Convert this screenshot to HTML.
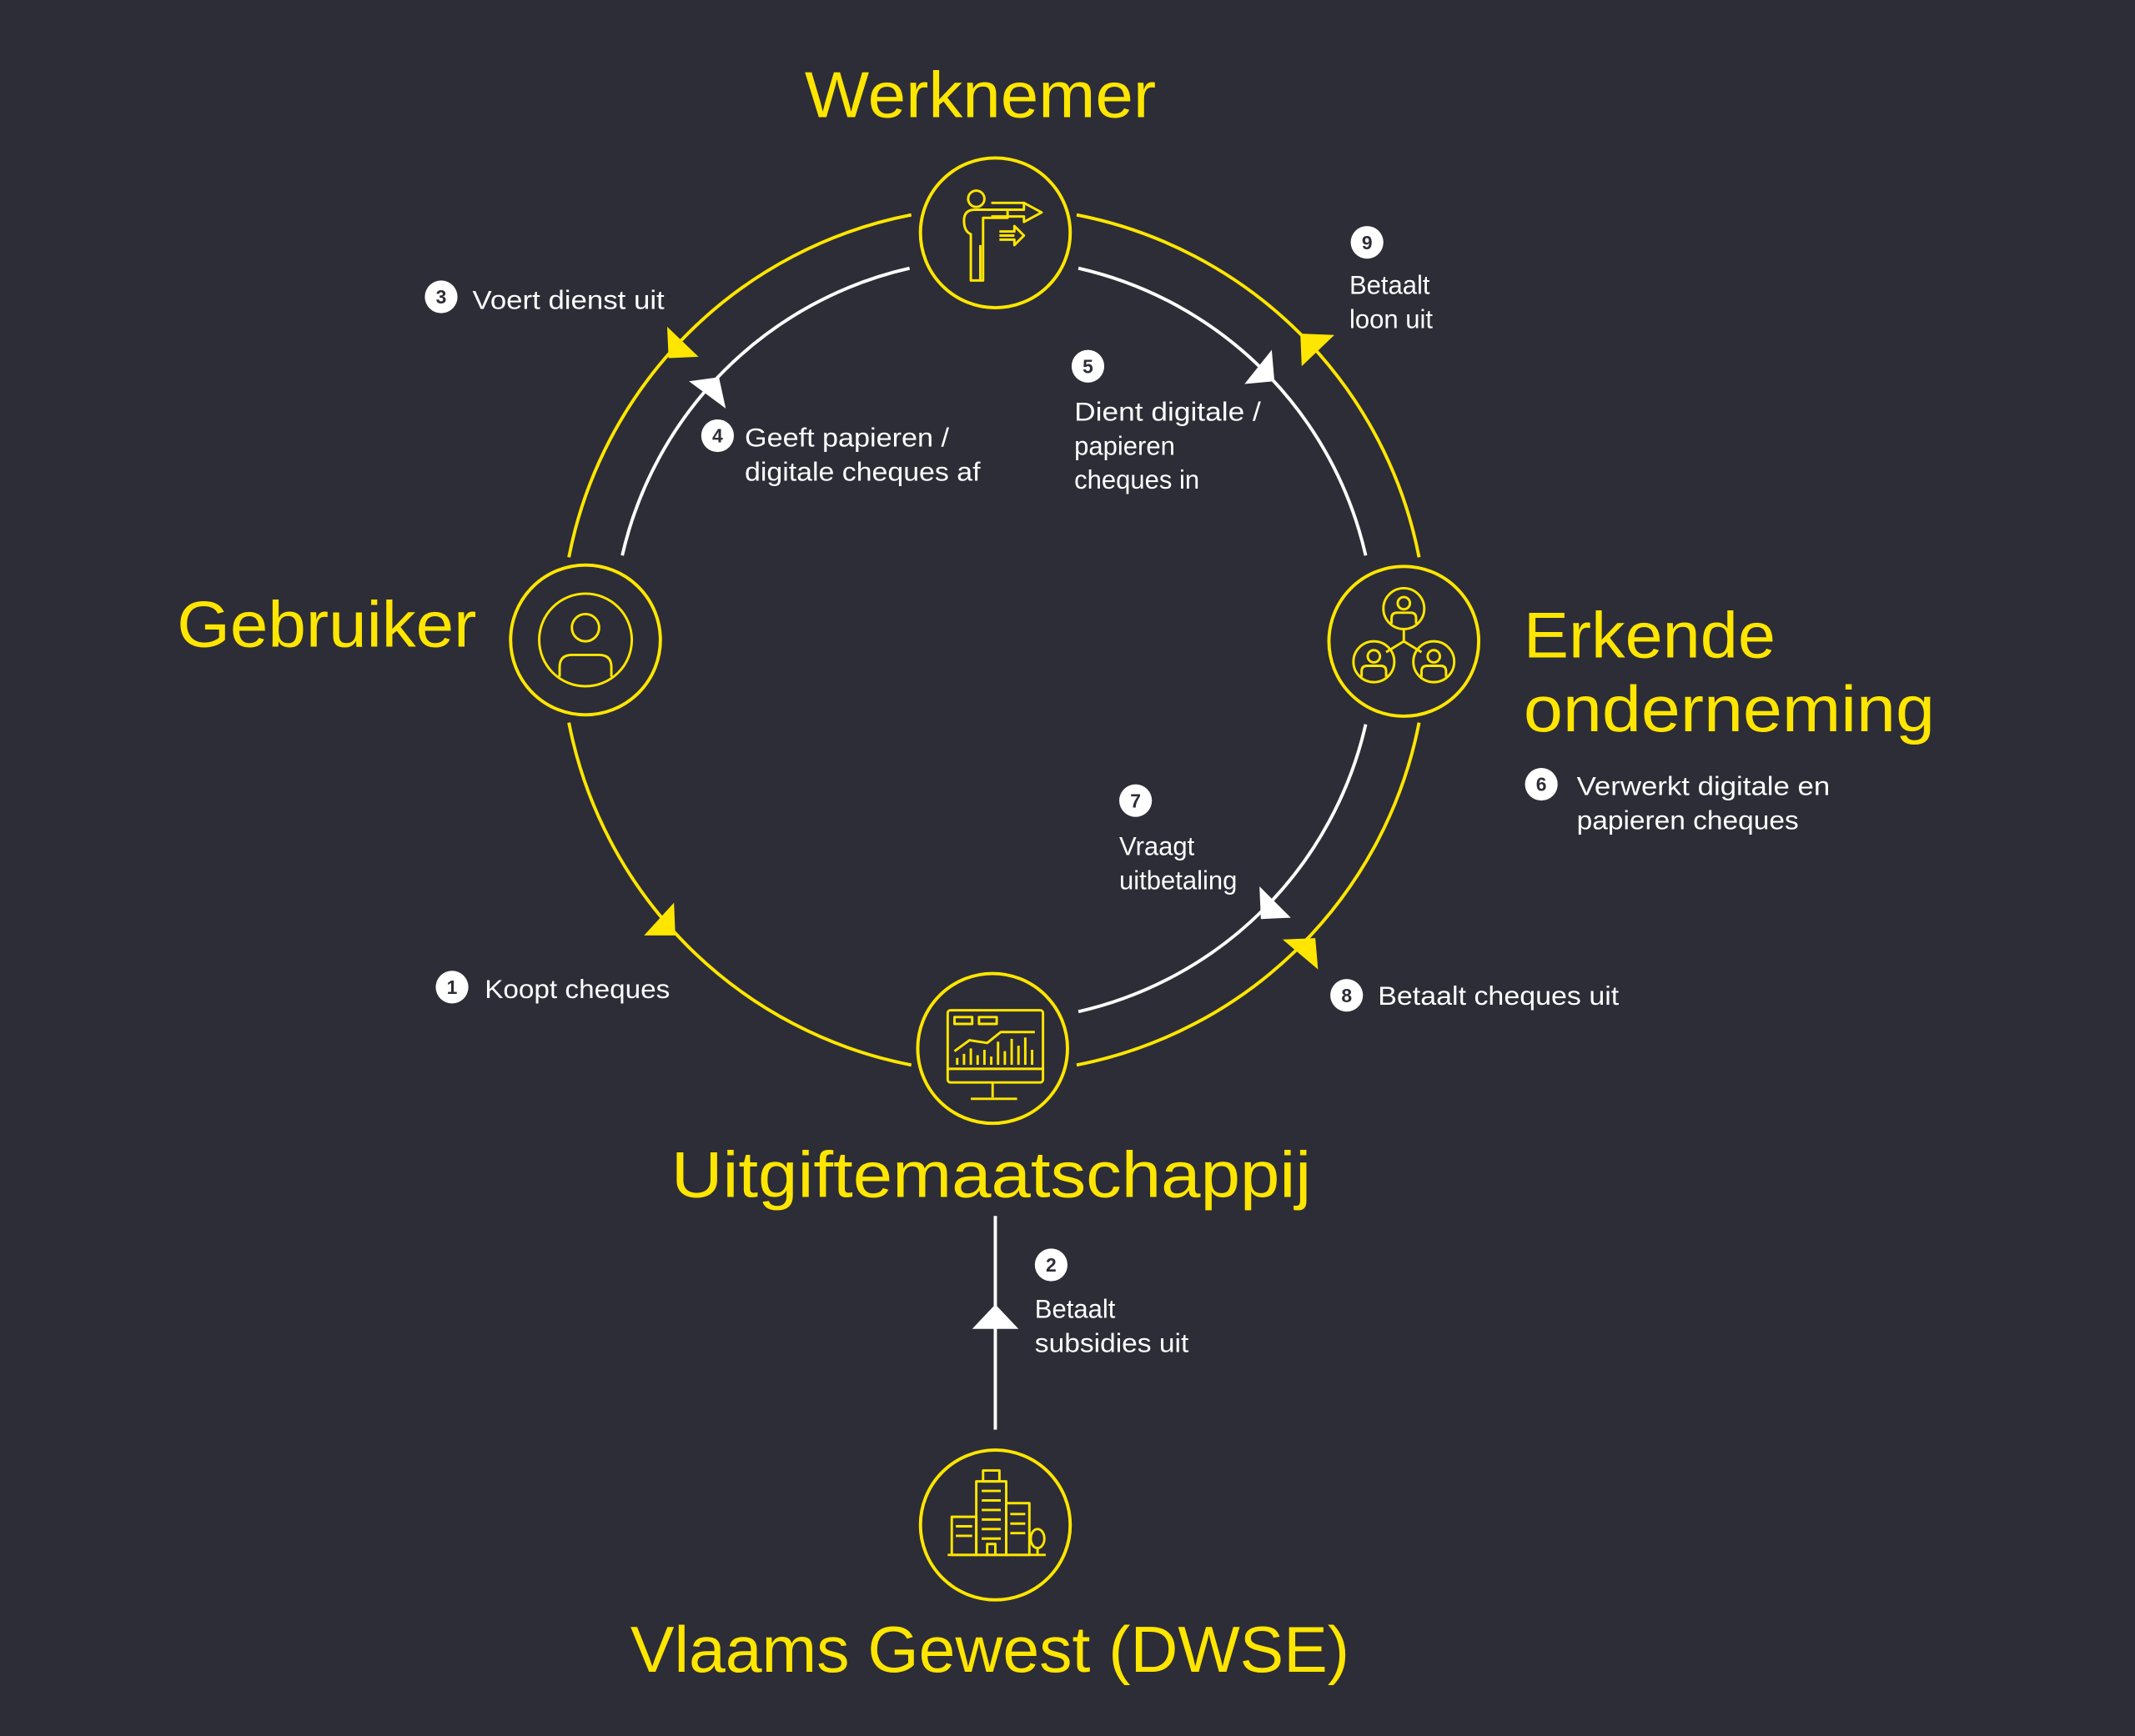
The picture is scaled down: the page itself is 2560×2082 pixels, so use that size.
<!DOCTYPE html>
<html><head><meta charset="utf-8"><style>
html,body{margin:0;padding:0;background:#2d2d37;}
svg{display:block}
.t{font-family:"Liberation Sans",sans-serif;fill:#ffe600;}
.s{font-family:"Liberation Sans",sans-serif;fill:#ffffff;font-size:19px;}
.b{font-family:"Liberation Sans",sans-serif;fill:#2d2d37;font-size:14px;font-weight:bold;text-anchor:middle;}
</style></head><body>
<svg width="2560" height="2082" viewBox="0 0 1568 1275" preserveAspectRatio="none" xmlns="http://www.w3.org/2000/svg">
<rect width="1568" height="1275" fill="#2d2d37"/>
<g fill="none" stroke-width="2.4">
<!-- outer yellow arcs -->
<path d="M790.7,157.8 A318,318 0 0 1 1042.2,409.3" stroke="#ffe600"/>
<path d="M1042.2,530.7 A318,318 0 0 1 790.7,782.2" stroke="#ffe600"/>
<path d="M669.3,782.2 A318,318 0 0 1 417.8,530.7" stroke="#ffe600"/>
<path d="M417.8,409.3 A318,318 0 0 1 669.3,157.8" stroke="#ffe600"/>
<!-- inner white arcs -->
<path d="M792,197 A280,280 0 0 1 1003,408" stroke="#fff"/>
<path d="M1003,532 A280,280 0 0 1 792,743" stroke="#fff"/>
<path d="M457,408 A280,280 0 0 1 668,197" stroke="#fff"/>
<!-- vertical -->
<line x1="731" y1="893" x2="731" y2="1050" stroke="#fff"/>
</g>
<!-- arrowheads -->
<g stroke="none">
<polygon points="490,240 513,262 491,263" fill="#ffe600"/>
<polygon points="506,280 528,277 533,300" fill="#fff"/>
<polygon points="955,245 980,246 956,269" fill="#ffe600"/>
<polygon points="934,257 914,282 936,280" fill="#fff"/>
<polygon points="925,651 948,674 926,675" fill="#fff"/>
<polygon points="942,690 966,689 968,712" fill="#ffe600"/>
<polygon points="473,687 495,663 496,687" fill="#ffe600"/>
<polygon points="731,958 714,976 748,976" fill="#fff"/>
</g>
<!-- node circles -->
<g fill="none" stroke="#ffe600" stroke-width="2.4">
<circle cx="731" cy="171" r="55"/>
<circle cx="430" cy="470" r="55"/>
<circle cx="1031" cy="471" r="55"/>
<circle cx="729" cy="770" r="55"/>
<circle cx="731" cy="1120" r="55"/>
</g>
<!-- icons -->
<g fill="none" stroke="#ffe600" stroke-width="1.8" stroke-linejoin="round">
<!-- gebruiker -->
<circle cx="430" cy="470" r="34"/>
<circle cx="430" cy="461" r="10"/>
<path d="M411,497 V490 Q411,481 420,481 H440 Q449,481 449,490 V497"/>
<!-- erkende -->
<circle cx="1031" cy="447" r="15"/><circle cx="1031" cy="443" r="4.5"/><path d="M1022,458 V454 Q1022,450 1026,450 H1036 Q1040,450 1040,454 V458"/>
<circle cx="1009" cy="486" r="15"/><circle cx="1009" cy="482" r="4.5"/><path d="M1000,497 V493 Q1000,489 1004,489 H1014 Q1018,489 1018,493 V497"/>
<circle cx="1053" cy="486" r="15"/><circle cx="1053" cy="482" r="4.5"/><path d="M1044,497 V493 Q1044,489 1048,489 H1058 Q1062,489 1062,493 V497"/>
<path d="M1031,462 V471 L1018,479 M1031,471 L1044,479"/>
<!-- werknemer -->
<circle cx="717" cy="146" r="6"/>
<path d="M713,206 V172 Q708,170 708,162 Q708,154 716,154 H740 V160 H722 V206 Z"/>
<path d="M720,180 V206"/>
<path d="M725,154 H752 V149 L765,156 L752,163 V159 H728"/>
<path d="M728,149 H752"/>
<path d="M734,170 H745 V166 L752,173 L745,180 V176 H734 M734,173 H745"/>
<!-- uitgifte monitor -->
<rect x="696" y="742" width="70" height="53" rx="2"/>
<rect x="701" y="747" width="13" height="5"/><rect x="719" y="747" width="13" height="5"/>
<path d="M696,785 H766"/>
<path d="M701,772 L712,764 L725,766 L735,758 L760,758"/>
<path d="M703,782 V777 M708,782 V774 M713,782 V770 M718,782 V775 M723,782 V771 M728,782 V776 M733,782 V765 M738,782 V772 M743,782 V763 M748,782 V768 M753,782 V762 M758,782 V771"/>
<path d="M729,795 V806 M713,807 H747"/>
<!-- vlaams -->
<path d="M696,1142 H768"/>
<rect x="717" y="1088" width="22" height="54"/>
<rect x="722" y="1080" width="12" height="8"/>
<rect x="699" y="1114" width="18" height="28"/>
<rect x="739" y="1104" width="17" height="38"/>
<path d="M721,1095 H735 M721,1102 H735 M721,1109 H735 M721,1116 H735 M721,1123 H735 M721,1130 H735 M702,1121 H714 M702,1128 H714 M742,1112 H753 M742,1119 H753 M742,1126 H753 M725,1142 V1134 H731 V1142"/>
<ellipse cx="762" cy="1130" rx="5" ry="7"/><path d="M762,1137 V1142"/>
</g>
<!-- titles -->
<text class="t" x="720" y="86" font-size="48" text-anchor="middle" textLength="258" lengthAdjust="spacingAndGlyphs">Werknemer</text>
<text class="t" x="130" y="475" font-size="48" textLength="220" lengthAdjust="spacingAndGlyphs">Gebruiker</text>
<text class="t" x="1119" y="483" font-size="48" textLength="185" lengthAdjust="spacingAndGlyphs">Erkende</text>
<text class="t" x="1119" y="537" font-size="48" textLength="302" lengthAdjust="spacingAndGlyphs">onderneming</text>
<text class="t" x="728" y="879" font-size="48" text-anchor="middle" textLength="470" lengthAdjust="spacingAndGlyphs">Uitgiftemaatschappij</text>
<text class="t" x="727" y="1228" font-size="48" text-anchor="middle" textLength="528" lengthAdjust="spacingAndGlyphs">Vlaams Gewest (DWSE)</text>
<!-- badges -->
<g fill="#fff">
<circle cx="324" cy="218" r="12"/><circle cx="527" cy="320" r="12"/><circle cx="799" cy="269" r="12"/>
<circle cx="1004" cy="178" r="12"/><circle cx="1132" cy="576" r="12"/><circle cx="834" cy="588" r="12"/>
<circle cx="989" cy="731" r="12"/><circle cx="332" cy="725" r="12"/><circle cx="772" cy="929" r="12"/>
</g>
<text class="b" x="324" y="223">3</text><text class="b" x="527" y="325">4</text><text class="b" x="799" y="274">5</text>
<text class="b" x="1004" y="183">9</text><text class="b" x="1132" y="581">6</text><text class="b" x="834" y="593">7</text>
<text class="b" x="989" y="736">8</text><text class="b" x="332" y="730">1</text><text class="b" x="772" y="934">2</text>
<!-- labels -->
<text class="s" x="347" y="227" textLength="141" lengthAdjust="spacingAndGlyphs">Voert dienst uit</text>
<text class="s" x="547" y="328" textLength="150" lengthAdjust="spacingAndGlyphs">Geeft papieren /</text>
<text class="s" x="547" y="353" textLength="173" lengthAdjust="spacingAndGlyphs">digitale cheques af</text>
<text class="s" x="789" y="309" textLength="137" lengthAdjust="spacingAndGlyphs">Dient digitale /</text>
<text class="s" x="789" y="334">papieren</text>
<text class="s" x="789" y="359">cheques in</text>
<text class="s" x="991" y="216">Betaalt</text>
<text class="s" x="991" y="241">loon uit</text>
<text class="s" x="1158" y="584" textLength="186" lengthAdjust="spacingAndGlyphs">Verwerkt digitale en</text>
<text class="s" x="1158" y="609" textLength="163" lengthAdjust="spacingAndGlyphs">papieren cheques</text>
<text class="s" x="822" y="628">Vraagt</text>
<text class="s" x="822" y="653">uitbetaling</text>
<text class="s" x="1012" y="738" textLength="177" lengthAdjust="spacingAndGlyphs">Betaalt cheques uit</text>
<text class="s" x="356" y="733" textLength="136" lengthAdjust="spacingAndGlyphs">Koopt cheques</text>
<text class="s" x="760" y="968">Betaalt</text>
<text class="s" x="760" y="993" textLength="113" lengthAdjust="spacingAndGlyphs">subsidies uit</text>
</svg>
</body></html>
